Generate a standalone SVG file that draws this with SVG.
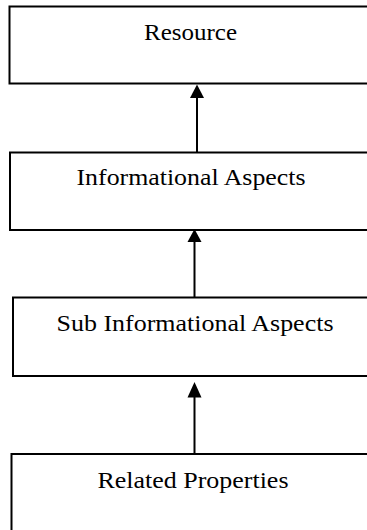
<svg xmlns="http://www.w3.org/2000/svg" width="367" height="530" viewBox="0 0 367 530">
<style>
.box{fill:#fff;stroke:#000;stroke-width:2}
.lbl{font-family:"Liberation Serif","Times New Roman",serif;font-size:23px;fill:#000;text-anchor:middle}
.ln{stroke:#000;stroke-width:2;fill:none}
.hd{fill:#000}
</style>
<rect width="367" height="530" fill="#fff"/>
<g id="resource"><rect class="box" x="9.5" y="6.5" width="380" height="77"/><text class="lbl" x="190.5" y="40" textLength="93" lengthAdjust="spacingAndGlyphs">Resource</text></g>
<g id="informational"><rect class="box" x="10" y="152.5" width="380" height="77.5"/><text class="lbl" x="191" y="184.5" textLength="229" lengthAdjust="spacingAndGlyphs">Informational Aspects</text></g>
<g id="sub"><rect class="box" x="13" y="297.5" width="380" height="78.5"/><text class="lbl" x="195" y="331" textLength="277" lengthAdjust="spacingAndGlyphs">Sub Informational Aspects</text></g>
<g id="related"><rect class="box" x="11.5" y="454" width="380" height="100"/><text class="lbl" x="193" y="487.5" textLength="191" lengthAdjust="spacingAndGlyphs">Related Properties</text></g>
<g id="connectors">
<line class="ln" x1="197" y1="152.5" x2="197" y2="96"/><polygon class="hd" points="197,84.5 190,98 204,98"/>
<line class="ln" x1="194.5" y1="297.5" x2="194.5" y2="240"/><polygon class="hd" points="194.5,229 187.5,242 201.5,242"/>
<line class="ln" x1="194.5" y1="454" x2="194.5" y2="396"/><polygon class="hd" points="194.5,382 187.5,397.5 201.5,397.5"/>
</g>
</svg>
